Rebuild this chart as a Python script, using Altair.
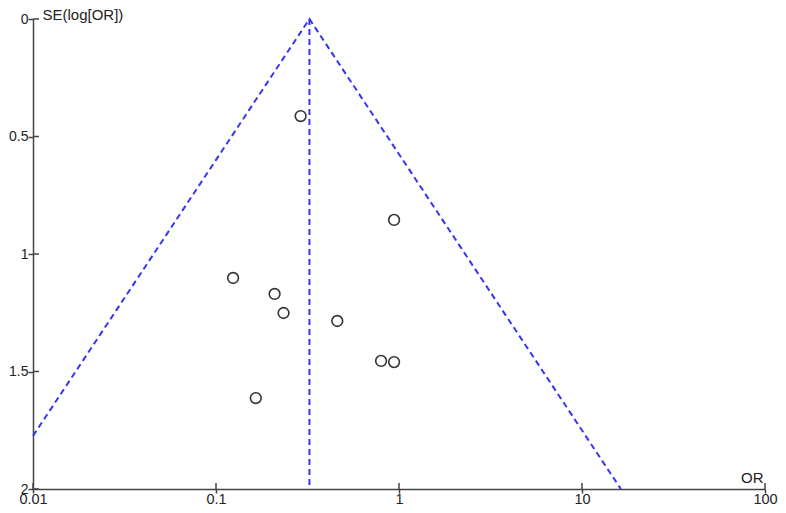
import altair as alt
import pandas as pd

# Study points (odds ratio, standard error of log OR)
study_or = [0.290, 0.94, 0.124, 0.209, 0.234, 0.460, 0.798, 0.94, 0.165]
study_se = [0.413, 0.855, 1.102, 1.170, 1.251, 1.285, 1.455, 1.460, 1.613]

# Funnel outline (left end, apex, right end) and pooled estimate line
funnel_or = [0.01, 0.324, 16.3]
funnel_se = [1.774, 0.0, 2.0]
pooled_or = [0.324, 0.324]
pooled_se = [0.0, 2.0]

# Axis ticks
x_ticks = [0.01, 0.1, 1, 10, 100]
y_ticks = [0, 0.5, 1, 1.5, 2]

FONT = "Liberation Sans"
AXIS_COLOR = "#444444"
TEXT_COLOR = "#222222"
LINE_COLOR = "#3535f5"

W, H = 732, 470

pts = pd.DataFrame({"OR": study_or, "SE": study_se})
funnel = pd.DataFrame({"OR": funnel_or, "SE": funnel_se, "i": list(range(len(funnel_or)))})
pooled = pd.DataFrame({"OR": pooled_or, "SE": pooled_se, "i": [0, 1]})
xt = pd.DataFrame({"OR": x_ticks})
yt = pd.DataFrame({"SE": y_ticks})

xscale = alt.Scale(type="log", domain=[0.01, 100], nice=False)
yscale = alt.Scale(domain=[0, 2], reverse=True, nice=False, zero=False)

x_axis = alt.Axis(
    values=x_ticks, format="~g", grid=False, labelFlush=False,
    domainColor=AXIS_COLOR, domainWidth=1.5, tickColor=AXIS_COLOR, tickWidth=1.5,
    tickSize=4, labelPadding=10, labelBaseline="alphabetic",
    labelFont=FONT, labelFontSize=14.5, labelColor=TEXT_COLOR,
    title="OR", titleFont=FONT, titleFontSize=15, titleFontWeight="normal", titleColor=TEXT_COLOR,
    titleAngle=0, titleAlign="right", titleBaseline="alphabetic", titleX=W - 2, titleY=-7,
)
y_axis = alt.Axis(
    values=y_ticks, format="~g", grid=False, labelFlush=False,
    domainColor=AXIS_COLOR, domainWidth=1.5, tickColor=AXIS_COLOR, tickWidth=1.5,
    tickSize=5, labelPadding=0, labelFont=FONT, labelFontSize=14, labelColor=TEXT_COLOR,
    title="SE(log[OR])", titleFont=FONT, titleFontSize=15, titleFontWeight="normal", titleColor=TEXT_COLOR,
    titleAngle=0, titleAlign="left", titleBaseline="alphabetic", titleX=9, titleY=0.5,
)

funnel_line = alt.Chart(funnel).mark_line(
    color=LINE_COLOR, strokeDash=[6, 4], strokeWidth=2
).encode(
    x=alt.X("OR:Q", scale=xscale, axis=x_axis),
    y=alt.Y("SE:Q", scale=yscale, axis=y_axis),
    order="i:O",
)

pooled_line = alt.Chart(pooled).mark_line(
    color=LINE_COLOR, strokeDash=[6, 4], strokeWidth=2
).encode(
    x=alt.X("OR:Q", scale=xscale),
    y=alt.Y("SE:Q", scale=yscale),
    order="i:O",
)

points = alt.Chart(pts).mark_point(
    filled=False, color="#333333", strokeWidth=1.6, size=115, opacity=1
).encode(
    x=alt.X("OR:Q", scale=xscale),
    y=alt.Y("SE:Q", scale=yscale),
)

# inward halves of the crossing ticks
x_inner = alt.Chart(xt).mark_rule(color=AXIS_COLOR, strokeWidth=1.5).encode(
    x=alt.X("OR:Q", scale=xscale),
    y=alt.value(H - 6), y2=alt.value(H),
)
y_inner = alt.Chart(yt).mark_rule(color=AXIS_COLOR, strokeWidth=1.5).encode(
    y=alt.Y("SE:Q", scale=yscale),
    x=alt.value(0), x2=alt.value(6),
)

chart = alt.layer(funnel_line, pooled_line, points, x_inner, y_inner).properties(
    width=W,
    height=H,
    autosize=alt.AutoSizeParams(type="none"),
    padding={"left": 25, "top": 11, "right": 13, "bottom": 16},
    background="white",
).configure_view(stroke=None)

chart.save("out.html", embed_options={"renderer": "svg", "actions": False})
